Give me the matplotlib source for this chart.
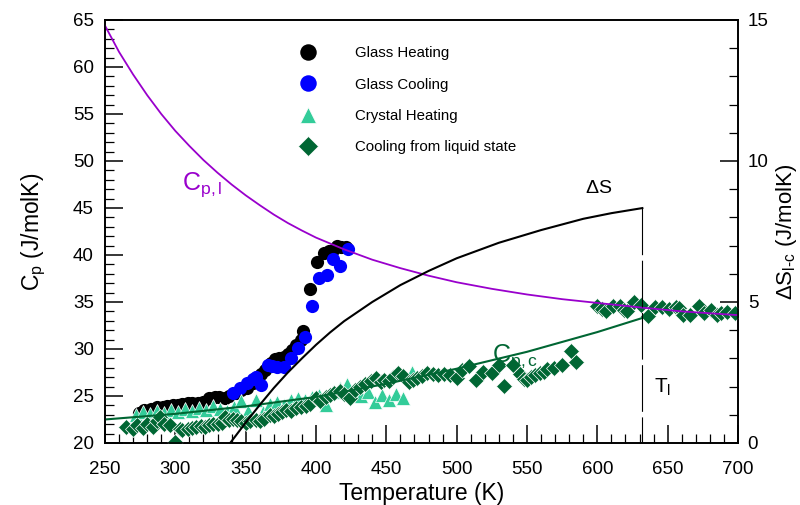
import matplotlib
matplotlib.use("Agg")
import matplotlib.pyplot as plt
from matplotlib.ticker import MultipleLocator

plt.rcParams['font.family'] = ['Liberation Sans', 'DejaVu Sans']
plt.rcParams['mathtext.fontset'] = 'custom'
plt.rcParams['mathtext.rm'] = 'Liberation Sans'
plt.rcParams['mathtext.it'] = 'Liberation Sans:italic'
plt.rcParams['mathtext.default'] = 'regular'

# ---- measured heat capacity (J/molK) ----
glass_heat_T = [274, 278, 283, 287, 291, 294, 298, 302, 305, 309, 312, 316, 320, 324,
                328, 331, 335, 338, 343, 347, 351, 355, 358, 361, 364, 368, 371, 374,
                377, 380, 383, 386, 389, 391, 396, 401, 406, 409, 412, 415, 418, 421]
glass_heat_Cp = [23.2, 23.5, 23.6, 23.8, 23.8, 23.9, 24.0, 24.0, 24.2, 24.3, 24.3, 24.3,
                 24.4, 24.8, 24.9, 24.9, 24.8, 25.0, 25.3, 25.6, 25.8, 26.4, 27.0, 27.3,
                 27.8, 28.5, 28.9, 29.0, 29.1, 29.5, 29.9, 30.4, 31.0, 31.9, 36.4, 39.3,
                 40.2, 40.4, 40.5, 41.0, 40.9, 40.8]

glass_cool_T = [341, 346, 351, 355, 357, 361, 366, 369, 372, 377, 382, 387, 392, 397,
                402, 408, 412, 417, 423]
glass_cool_Cp = [25.3, 25.9, 26.35, 26.8, 27.05, 26.2, 28.3, 28.2, 28.1, 28.1, 29.0,
                 30.1, 31.3, 34.6, 37.6, 37.9, 39.6, 38.8, 40.6]

crystal_T = [272, 277, 282, 287, 292, 297, 302, 307, 312, 317, 322, 327, 332, 337, 342,
             347, 352, 357, 362, 367, 372, 377, 382, 387, 392, 397, 402, 407, 412, 417,
             422, 427, 432, 437, 442, 447, 452, 457, 462, 468]
crystal_Cp = [23.0, 23.3, 23.1, 23.4, 23.2, 23.5, 23.3, 23.6, 23.4, 23.7, 23.5, 23.9,
              23.6, 23.4, 23.8, 24.5, 23.4, 24.6, 23.3, 24.2, 24.4, 24.0, 24.6, 24.8,
              24.6, 24.9, 25.1, 24.0, 25.4, 25.8, 26.3, 25.3, 25.0, 25.4, 24.4, 25.1,
              24.6, 25.2, 24.8, 27.6]

liquid_T = [265, 270, 273, 277, 280, 284, 287, 289, 292, 296, 300, 303, 305, 309, 312,
            315, 318, 321, 324, 327, 330, 333, 335, 338, 341, 344, 347, 350, 353, 357,
            360, 363, 367, 370, 373, 376, 379, 382, 386, 389, 393, 396, 400, 403, 407,
            410, 413, 417, 420, 424, 428, 431, 435, 439, 443, 446, 448, 452, 455, 458,
            462, 466, 469, 472, 475, 479, 483, 487, 491, 495, 500, 504, 509, 514, 519,
            525, 530, 534, 540, 545, 548, 550, 553, 556, 559, 562, 564, 569, 575, 581,
            585, 600, 603, 606, 611, 616, 619, 621, 626, 631, 636, 641, 646, 651, 656,
            658, 661, 666, 672, 676, 681, 685, 688, 692, 698]
liquid_Cp = [21.7, 21.5, 21.9, 21.6, 22.0, 21.7, 22.3, 22.8, 22.0, 21.9, 20.1, 21.5,
             21.4, 21.5, 21.6, 21.7, 21.8, 21.7, 21.9, 22.0, 22.0, 22.1, 22.8, 22.4,
             22.6, 22.4, 22.3, 22.1, 22.3, 22.4, 22.3, 22.6, 23.0, 22.9, 23.1, 23.3,
             23.5, 23.4, 23.7, 23.8, 23.9, 24.2, 24.8, 24.5, 24.9, 25.1, 25.3, 25.5,
             25.2, 24.8, 25.6, 26.0, 26.3, 26.6, 26.9, 26.5, 26.7, 26.6, 27.0, 27.4,
             27.1, 26.5, 26.7, 26.9, 27.1, 27.4, 27.3, 27.2, 27.3, 27.2, 26.9, 27.8,
             28.2, 26.7, 27.6, 27.4, 28.3, 26.1, 28.3, 27.3, 26.8, 26.7, 27.0, 27.2,
             27.4, 27.5, 27.9, 28.0, 28.3, 29.8, 28.6, 34.6, 34.3, 34.0, 34.6, 34.6,
             34.2, 34.0, 35.0, 34.7, 33.5, 34.5, 34.5, 34.3, 34.5, 34.4, 33.6, 33.6,
             34.6, 33.8, 34.1, 33.6, 33.8, 33.9, 33.8]

# ---- model curves ----
cpl_T = [250, 260, 270, 280, 290, 300, 310, 320, 330, 340, 350, 360, 370, 380, 390,
         400, 420, 440, 460, 480, 500, 525, 550, 575, 600, 632, 660, 700]
cpl_Cp = [64.4, 61.6, 59.2, 57.0, 55.0, 53.2, 51.6, 50.1, 48.75, 47.5, 46.35, 45.3,
          44.3, 43.4, 42.6, 41.85, 40.6, 39.5, 38.6, 37.8, 37.1, 36.4, 35.8, 35.3,
          34.9, 34.4, 34.0, 33.6]

cpc_T = [250, 300, 350, 400, 450, 500, 550, 600, 632]
cpc_Cp = [22.5, 23.1, 23.9, 24.9, 26.3, 27.9, 29.7, 31.8, 33.3]

ds_T = [339, 350, 360, 370, 380, 390, 400, 410, 420, 440, 460, 480, 500, 530, 560, 590,
        610, 632]
ds_S = [0.0, 0.72, 1.35, 1.95, 2.5, 3.0, 3.48, 3.92, 4.32, 5.0, 5.6, 6.1, 6.55, 7.1,
        7.55, 7.95, 8.15, 8.33]

x_range = (250, 700)
cp_range = (20, 65)
ds_range = (0, 15)

purple = '#9900cc'
dkgreen = '#006633'
ltgreen = '#33cc99'

fig = plt.figure(figsize=(8, 5.05), dpi=100)
ax = fig.add_axes([0.13125, 0.1228, 0.79125, 0.8376])
ax2 = ax.twinx()

ax.plot(glass_heat_T, glass_heat_Cp, 'o', ms=9.5, color='black', mew=0,
        label='Glass Heating', zorder=3)
ax.plot(glass_cool_T, glass_cool_Cp, 'o', ms=9.5, color='#0000ff', mew=0,
        label='Glass Cooling', zorder=3)
ax.plot(crystal_T, crystal_Cp, '^', ms=9.5, mfc=ltgreen, mec='white', mew=0.5,
        label='Crystal Heating', zorder=3)
ax.plot(liquid_T, liquid_Cp, 'D', ms=8, mfc=dkgreen, mec='white', mew=0.5,
        label='Cooling from liquid state', zorder=3)

ax.plot(cpl_T, cpl_Cp, '-', color=purple, lw=1.3, zorder=5)
ax.plot(cpc_T, cpc_Cp, '-', color=dkgreen, lw=1.5, zorder=5)

ax2.plot(ds_T, ds_S, '-', color='black', lw=1.5)
ax2.plot([ds_T[-1], ds_T[-1]], [ds_S[-1], 0], color='black', lw=0.8,
         dashes=(42, 5))

ax.text(305, 46.9, r'C$_{p,l}$', color=purple, fontsize=18)
ax.text(525, 28.6, r'C$_{p,c}$', color=dkgreen, fontsize=18)
ax.text(591, 46.6, r'$\Delta$S', color='black', fontsize=14)
ax.text(640, 25.3, r'T$_{l}$', color='black', fontsize=15)

ax.set_xlim(*x_range)
ax.set_ylim(*cp_range)
ax2.set_ylim(*ds_range)

ax.xaxis.set_major_locator(MultipleLocator(50))
ax.xaxis.set_minor_locator(MultipleLocator(10))
ax.yaxis.set_major_locator(MultipleLocator(5))
ax.yaxis.set_minor_locator(MultipleLocator(1))
ax2.yaxis.set_major_locator(MultipleLocator(5))
ax2.yaxis.set_minor_locator(MultipleLocator(1))

ax.tick_params(which='both', direction='in', top=False, right=False,
               labelsize=13.5, width=1.1)
ax.tick_params(axis='x', which='major', length=13, pad=13)
ax.tick_params(axis='y', which='major', length=13, pad=8)
ax.tick_params(which='minor', length=6.5, width=0.9)
ax2.tick_params(which='both', direction='in', labelsize=13.5, width=1.1)
ax2.tick_params(which='major', length=13, pad=7)
ax2.tick_params(which='minor', length=6.5, width=0.9)

for a in (ax, ax2):
    for s in a.spines.values():
        s.set_linewidth(1.2)

ax.set_xlabel('Temperature (K)', fontsize=16.5, labelpad=3)
ax.set_ylabel(r'C$_p$ (J/molK)', fontsize=16.5, labelpad=18)
ax2.set_ylabel(r'$\Delta$S$_{l\text{-}c}$ (J/molK)', fontsize=16, labelpad=4)

ax.legend(loc='upper left', bbox_to_anchor=(0.297, 0.952), frameon=False,
          fontsize=10.8, handlelength=1.2, handletextpad=2.5, labelspacing=1.15,
          markerscale=1.25, borderaxespad=0)

fig.savefig('out.png', dpi=100)
